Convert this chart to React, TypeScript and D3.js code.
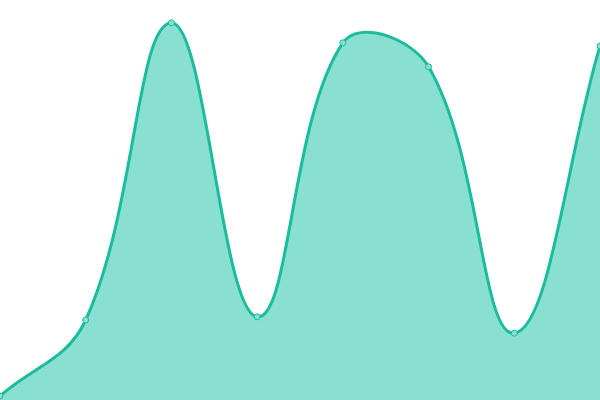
import React, { useEffect, useRef } from 'react';
import * as d3 from 'd3';

const labels = ['A', 'B', 'C', 'D', 'E', 'F', 'G', 'H'];
const values = [1, 20, 94.3, 20.8, 89.3, 83.3, 16.7, 88.5];

const width = 600;
const height = 400;
const tension = 0.4;

// spline through the points, same control point rule as a tension spline weighted by segment length
function splinePath(pts: [number, number][]) {
  const p = d3.path();
  const cps = pts.map((cur, i) => {
    const prev = pts[i - 1] || cur;
    const next = pts[i + 1] || cur;
    const d01 = Math.hypot(cur[0] - prev[0], cur[1] - prev[1]);
    const d12 = Math.hypot(next[0] - cur[0], next[1] - cur[1]);
    let s01 = d01 / (d01 + d12);
    let s12 = d12 / (d01 + d12);
    if (isNaN(s01)) s01 = 0;
    if (isNaN(s12)) s12 = 0;
    const fa = tension * s01;
    const fb = tension * s12;
    return {
      prev: [cur[0] - fa * (next[0] - prev[0]), cur[1] - fa * (next[1] - prev[1])],
      next: [cur[0] + fb * (next[0] - prev[0]), cur[1] + fb * (next[1] - prev[1])],
    };
  });
  pts.forEach((pt, i) => {
    if (i === 0) p.moveTo(pt[0], pt[1]);
    else {
      const a = cps[i - 1].next;
      const b = cps[i].prev;
      p.bezierCurveTo(a[0], a[1], b[0], b[1], pt[0], pt[1]);
    }
  });
  return p.toString();
}

const App: React.FC = () => {
  const svgRef = useRef<SVGSVGElement>(null);

  useEffect(() => {
    if (!svgRef.current) return;
    const svg = d3.select(svgRef.current);
    svg.selectAll('*').remove();

    const x = d3.scalePoint<string>().domain(labels).range([0, width]);
    const y = d3.scaleLinear().domain([0, 100]).range([height, 0]);

    const pts: [number, number][] = labels.map((l, i) => [x(l) as number, y(values[i])]);
    const line = splinePath(pts);

    // filled area down to the bottom edge
    svg.append('path')
      .attr('d', `${line}L${width},${height}L0,${height}Z`)
      .attr('fill', '#8ae0d0')
      .attr('stroke', 'none');

    svg.append('path')
      .attr('d', line)
      .attr('fill', 'none')
      .attr('stroke', '#1abc9c')
      .attr('stroke-width', 3);

    svg.append('g')
      .selectAll('circle')
      .data(pts)
      .join('circle')
      .attr('cx', d => d[0])
      .attr('cy', d => d[1])
      .attr('r', 3)
      .attr('fill', '#8ae0d0')
      .attr('stroke', '#1abc9c')
      .attr('stroke-width', 1);
  }, []);

  return (
    <svg
      ref={svgRef}
      width={width}
      height={height}
      style={{ position: 'absolute', left: 0, top: 0, background: '#fff' }}
    />
  );
};

export default App;
